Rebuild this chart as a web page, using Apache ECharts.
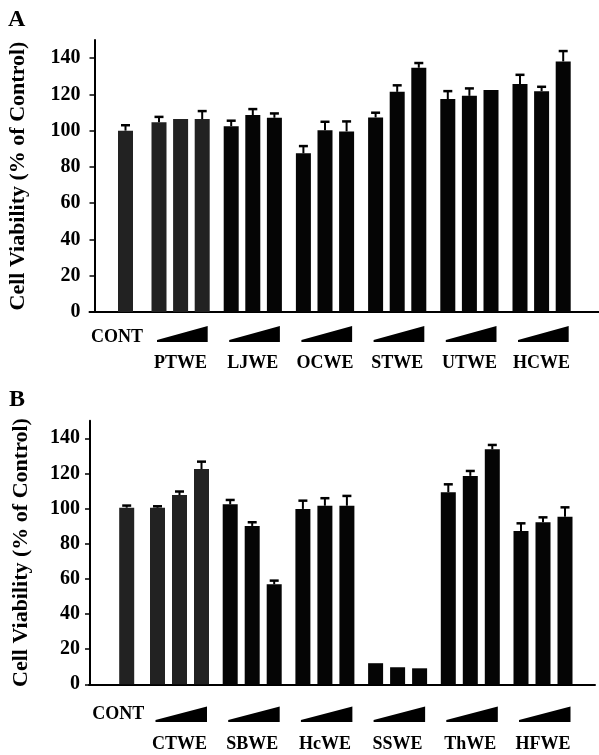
<!DOCTYPE html>
<html>
<head>
<meta charset="utf-8">
<script src="https://cdn.jsdelivr.net/npm/echarts@6/dist/echarts.min.js"></script>
<style>
html,body{margin:0;padding:0;background:#fff;}
#chart{width:599px;height:755px;}
</style>
</head>
<body>
<div id="chart"></div>
<script>
// ---------- data ----------
const yTicks = [0, 20, 40, 60, 80, 100, 120, 140];
const yTitle = 'Cell Viability (% of Control)';
const contLabel = 'CONT';

// Panel A
const groupsA = ['PTWE', 'LJWE', 'OCWE', 'STWE', 'UTWE', 'HCWE'];
const contA = 100;
const contErrA = 3;
const valuesA = [
  [104.6, 106.4, 106.4],
  [102.5, 108.6, 107.1],
  [87.5, 100.2, 99.6],
  [107.3, 121.4, 134.7],
  [117.4, 119.2, 122.4],
  [125.7, 121.8, 138.2]
];
const errorsA = [
  [3.0, 0, 4.4],
  [3.0, 3.3, 2.4],
  [4.0, 4.7, 5.5],
  [2.6, 3.6, 2.6],
  [4.4, 4.1, 0],
  [5.1, 2.4, 5.7]
];

// Panel B
const groupsB = ['CTWE', 'SBWE', 'HcWE', 'SSWE', 'ThWE', 'HFWE'];
const contB = 100.5;
const contErrB = 1.2;
const valuesB = [
  [100.5, 107.7, 122.5],
  [102.4, 90.1, 56.9],
  [99.8, 101.6, 101.6],
  [12.0, 9.7, 9.1],
  [109.3, 118.6, 133.7],
  [87.3, 92.2, 95.4]
];
const errorsB = [
  [0.8, 2.0, 4.2],
  [2.5, 2.1, 2.1],
  [4.7, 4.3, 5.6],
  [0, 0, 0],
  [4.5, 2.8, 2.5],
  [4.3, 2.8, 5.3]
];

// ---------- layout / style ----------
const FONT = "'Liberation Serif', 'Times New Roman', serif";
const LA = {lineStart: 89.5, axisX: 94.5, lineEnd: 599, top: 40, zeroY: 312,
  contX: 125.5, firstX: 159, groupStep: 72.2, barStep: 21.6,
  wedgeTop: 326, wedgeBottom: 342, contLabelY: 337, groupLabelY: 363, titleGap: 60};
const LB = {lineStart: 89, axisX: 90, lineEnd: 595, top: 420.7, zeroY: 684.3,
  contX: 126.7, firstX: 157.5, groupStep: 72.7, barStep: 22,
  wedgeTop: 706.5, wedgeBottom: 722, contLabelY: 714, groupLabelY: 744, titleGap: 57};

const chart = echarts.init(document.getElementById('chart'));

function buildPanel(i, L, groups, vals, errs, contVal, contErr) {
  const barX = (g, j) => L.firstX + g * L.groupStep + j * L.barStep - L.axisX;
  const contXv = L.contX - L.axisX;
  const barData = [{value: [contXv, contVal], itemStyle: {color: '#222'}}];
  const errData = [[contXv, contVal, contVal + contErr]];
  groups.forEach((name, g) => {
    vals[g].forEach((v, j) => {
      barData.push({value: [barX(g, j), v], itemStyle: {color: g === 0 ? '#222' : '#050505'}});
      errData.push([barX(g, j), v, v + errs[g][j]]);
    });
  });
  const wedgeData = groups.map((name, g) => [barX(g, 0), barX(g, 2), 0, g]);

  const grid = {left: L.lineStart, top: L.top, width: L.lineEnd - L.lineStart,
    height: L.zeroY - L.top, containLabel: false, outerBoundsMode: 'none'};
  const xAxis = {gridIndex: i, type: 'value', min: L.lineStart - L.axisX, max: L.lineEnd - L.axisX,
    axisLine: {show: true, onZero: true, lineStyle: {color: '#000', width: 2}},
    axisTick: {show: false}, axisLabel: {show: false}, splitLine: {show: false}};
  const yAxis = {gridIndex: i, type: 'value', min: 0, max: 150,
    name: yTitle, nameLocation: 'middle', nameGap: L.titleGap, nameRotate: 90,
    nameTextStyle: {fontFamily: FONT, fontWeight: 'bold', fontSize: 22, color: '#000'},
    axisLine: {show: true, onZero: true, lineStyle: {color: '#000', width: 2}},
    axisTick: {show: true, inside: false, length: 5, customValues: yTicks, lineStyle: {color: '#000', width: 1.5}},
    axisLabel: {show: true, customValues: yTicks, margin: 9, fontFamily: FONT, fontWeight: 'bold', fontSize: 20, color: '#000'},
    splitLine: {show: false}};

  const bars = {type: 'bar', xAxisIndex: i, yAxisIndex: i, barWidth: 15, data: barData,
    animation: false, silent: true};
  const errSeries = {type: 'custom', xAxisIndex: i, yAxisIndex: i, data: errData, animation: false, silent: true,
    encode: {x: 0, y: [1, 2]}, z: 3,
    renderItem: (params, api) => {
      const x = api.value(0), v = api.value(1), t = api.value(2);
      if (t - v < 0.05) return null;
      const p0 = api.coord([x, v]);
      const p1 = api.coord([x, t]);
      const st = {stroke: '#000', lineWidth: 2};
      return {type: 'group', children: [
        {type: 'line', shape: {x1: p0[0], y1: p0[1], x2: p1[0], y2: p1[1]}, style: st},
        {type: 'line', shape: {x1: p1[0] - 4.5, y1: p1[1], x2: p1[0] + 4.5, y2: p1[1]}, style: {stroke: '#000', lineWidth: 2.5}}
      ]};
    }};
  const labelStyle = (txt, x, y) => ({type: 'text', x: x, y: y, style: {text: txt, x: 0, y: 0,
    align: 'center', verticalAlign: 'middle', textAlign: 'center', textVerticalAlign: 'middle',
    fontFamily: FONT, fontWeight: 'bold', fontSize: 18, fill: '#000'}});
  const wedgeSeries = {type: 'custom', xAxisIndex: i, yAxisIndex: i, data: wedgeData, animation: false, silent: true,
    encode: {x: [0, 1], y: 2}, clip: false, z: 3,
    renderItem: (params, api) => {
      const g = api.value(3);
      const a = api.coord([api.value(0), 0]);
      const b = api.coord([api.value(1), 0]);
      const left = a[0] - 2, right = b[0] + 5.5;
      const mid = (a[0] + b[0]) / 2;
      const children = [
        {type: 'polygon', shape: {points: [[left, L.wedgeBottom - 2], [right, L.wedgeTop], [right, L.wedgeBottom], [left, L.wedgeBottom]]},
          style: {fill: '#000'}},
        labelStyle(groups[g], mid, L.groupLabelY)
      ];
      if (g === 0) {
        const c = api.coord([contXv, 0]);
        children.push(labelStyle(contLabel, c[0] - 8.5, L.contLabelY));
      }
      return {type: 'group', children: children};
    }};
  return {grid, xAxis, yAxis, series: [bars, errSeries, wedgeSeries]};
}

const pA = buildPanel(0, LA, groupsA, valuesA, errorsA, contA, contErrA);
const pB = buildPanel(1, LB, groupsB, valuesB, errorsB, contB, contErrB);

chart.setOption({
  animation: false,
  backgroundColor: '#fff',
  grid: [pA.grid, pB.grid],
  xAxis: [pA.xAxis, pB.xAxis],
  yAxis: [pA.yAxis, pB.yAxis],
  series: [...pA.series, ...pB.series],
  graphic: [
    {type: 'text', left: 8, top: 8, style: {text: 'A', fontFamily: FONT, fontWeight: 'bold', fontSize: 24, fill: '#000'}},
    {type: 'text', left: 9, top: 388, style: {text: 'B', fontFamily: FONT, fontWeight: 'bold', fontSize: 24, fill: '#000'}}
  ]
});
</script>
</body>
</html>
